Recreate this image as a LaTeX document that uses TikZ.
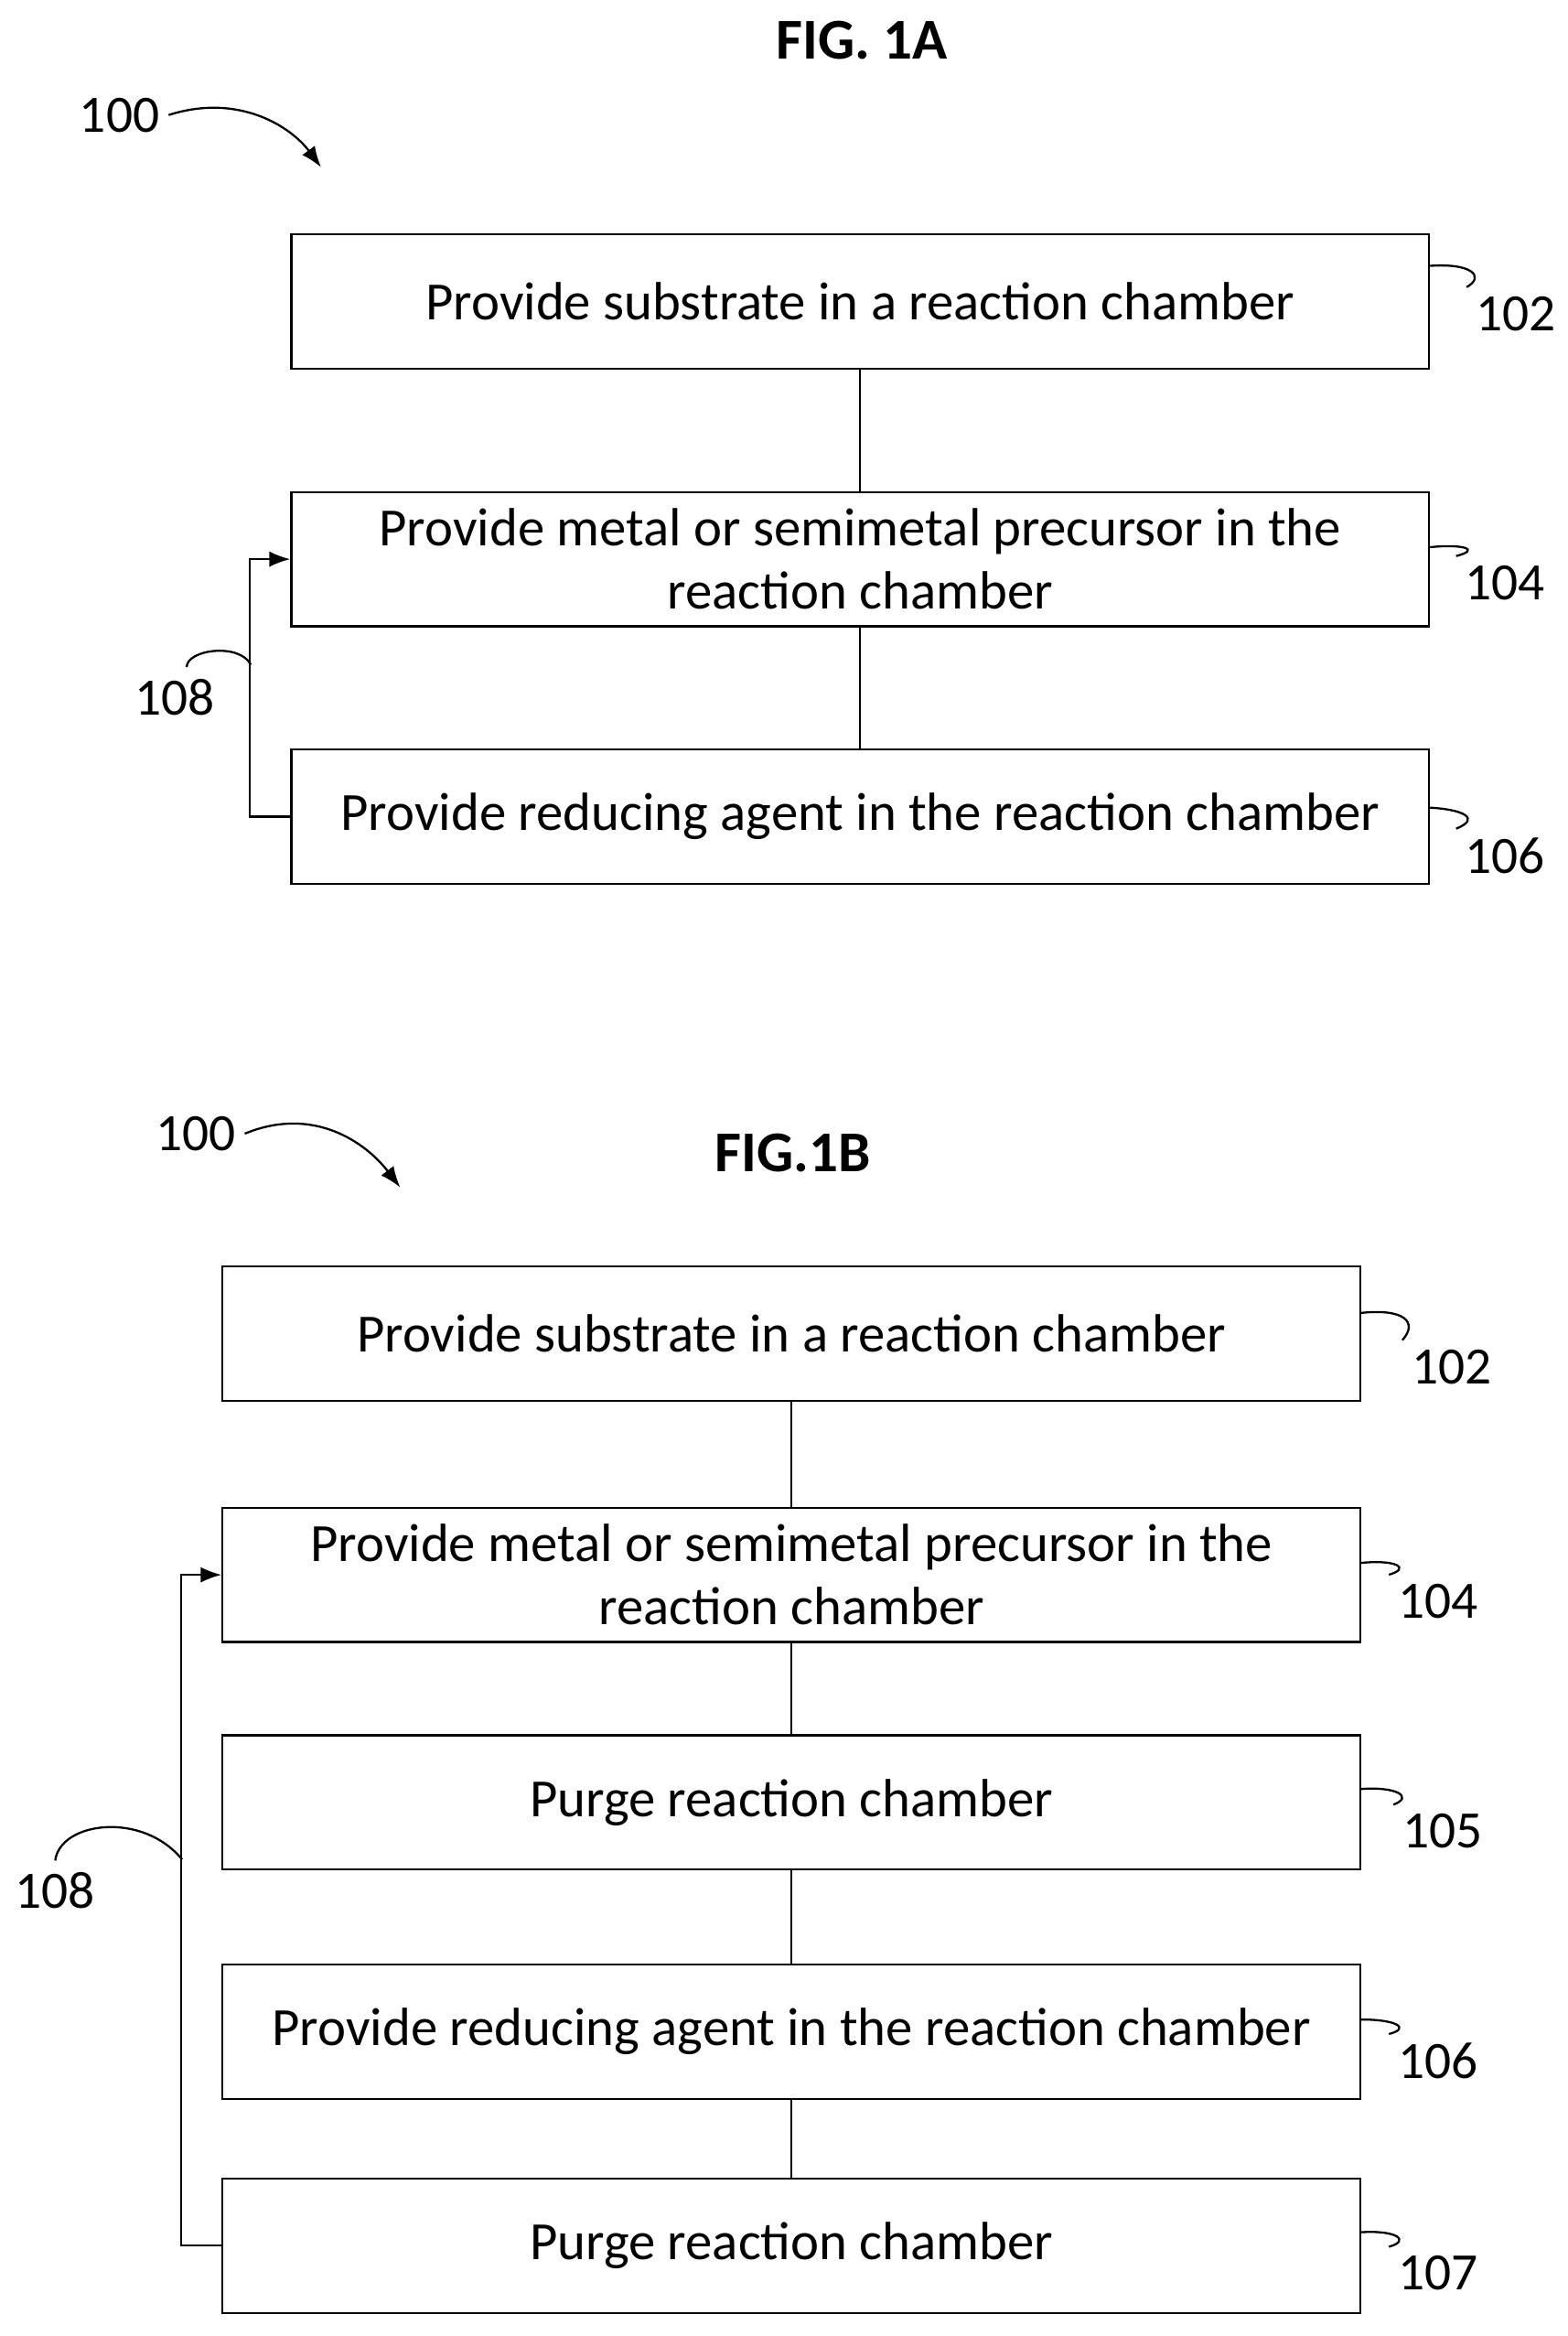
\documentclass[tikz,border=0pt]{standalone}
\usepackage{fontspec}
\setmainfont{Carlito}
\usetikzlibrary{arrows.meta,positioning,calc}
\tikzset{
	stage/.style={draw, thick, minimum width=15.24cm, minimum height=1.8cm, align=center, font=\fontsize{20.5}{24}\selectfont, inner sep=2pt},
	ref/.style={font=\fontsize{20}{24}\selectfont},
	lead/.style={thick},
}
\begin{document}
\begin{tikzpicture}[x=0.02cm, y=-0.02cm]
\useasboundingbox (0,0) rectangle (1050,1564);

% figure 1A

\node[font=\fontsize{22}{26}\selectfont\bfseries] (titleA) at (577,27) {FIG. 1A};
\node[ref] (hundredA) at (80,77) {100};
\coordinate (arrA) at (215,112);
\draw[thick,-{Latex[length=8pt]}] (hundredA.east) .. controls (160,62) and (195,85) .. (arrA);

\node[stage] (a1) at (576,202) {Provide substrate in a reaction chamber};
\node[stage, below=1.62cm of a1] (a2) {Provide metal or semimetal precursor in the\\reaction chamber};
\node[stage, below=1.62cm of a2] (a3) {Provide reducing agent in the reaction chamber};

\draw[thick] (a1) -- (a2);
\draw[thick] (a2) -- (a3);
\draw[thick,-{Latex[length=8pt]}] (a3.west) -| ($(a2.west)+(-27,0)$) -- (a2.west);

\node[ref] (r102a) at (1015,210) {102};
\node[ref] (r104a) at (1008,390) {104};
\node[ref] (r106a) at (1008,573) {106};
\node[ref] (r108a) at (117,467) {108};
\draw[lead] ($(a1.east)+(0,-24)$) .. controls (985,176) and (995,185) .. (r102a.north west);
\draw[lead] ($(a2.east)+(0,-8)$) .. controls (980,364) and (992,368) .. (r104a.north west);
\draw[lead] ($(a3.east)+(0,-6)$) .. controls (980,542) and (992,548) .. (r106a.north west);
\draw[lead] ($(r108a.north)+(8,-2)$) .. controls (125,435) and (160,430) .. (168,445);

% figure 1B

\node[font=\fontsize{22}{26}\selectfont\bfseries] (titleB) at (531,772) {FIG.1B};
\node[ref] (hundredB) at (131,759) {100};
\coordinate (arrB) at (268,795);
\draw[thick,-{Latex[length=8pt]}] (hundredB.east) .. controls (210,740) and (245,765) .. (arrB);

\node[stage] (b1) at (530,893) {Provide substrate in a reaction chamber};
\node[stage, below=1.4cm of b1] (b2) {Provide metal or semimetal precursor in the\\reaction chamber};
\node[stage, below=1.22cm of b2] (b3) {Purge reaction chamber};
\node[stage, below=1.24cm of b3] (b4) {Provide reducing agent in the reaction chamber};
\node[stage, below=1.04cm of b4] (b5) {Purge reaction chamber};

\foreach \u/\v in {b1/b2,b2/b3,b3/b4,b4/b5}
	\draw[thick] (\u) -- (\v);
\draw[thick,-{Latex[length=8pt]}] (b5.west) -| ($(b2.west)+(-27,0)$) -- (b2.west);

\node[ref] (r102b) at (972,915) {102};
\node[ref] (r104b) at (963,1072) {104};
\node[ref] (r105b) at (966,1226) {105};
\node[ref] (r106b) at (963,1380) {106};
\node[ref] (r107b) at (963,1522) {107};
\node[ref] (r108b) at (37,1266) {108};
\draw[lead] ($(b1.east)+(0,-14)$) .. controls (940,876) and (950,885) .. (r102b.north west);
\draw[lead] ($(b2.east)+(0,-8)$) .. controls (935,1044) and (945,1050) .. (r104b.north west);
\draw[lead] ($(b3.east)+(0,-9)$) .. controls (935,1196) and (947,1203) .. (r105b.north west);
\draw[lead] ($(b4.east)+(0,-8)$) .. controls (935,1352) and (945,1358) .. (r106b.north west);
\draw[lead] ($(b5.east)+(0,-9)$) .. controls (935,1493) and (945,1500) .. (r107b.north west);
\draw[lead] ($(r108b.north)+(0,-2)$) .. controls (40,1220) and (95,1212) .. (122,1245);
\end{tikzpicture}
\end{document}
